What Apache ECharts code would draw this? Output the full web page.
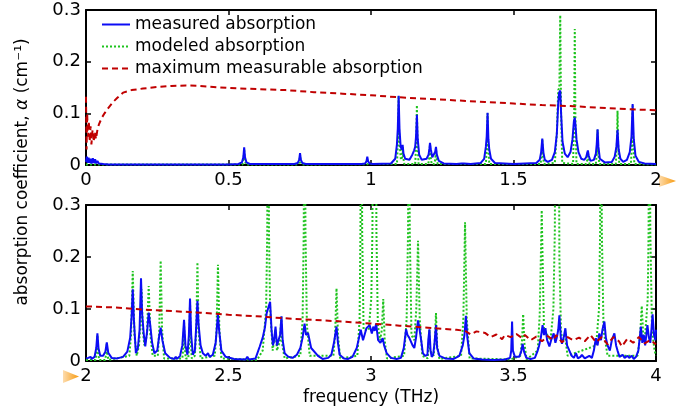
<!DOCTYPE html>
<html>
<head>
<meta charset="utf-8">
<script src="https://cdn.jsdelivr.net/npm/echarts@6/dist/echarts.min.js"></script>
<style>
html,body{margin:0;padding:0;background:#fff;}
#chart{width:694px;height:414px;}
</style>
</head>
<body>
<div id="chart"></div>
<script>
// ---------- data (frequency in THz, absorption coefficient in cm^-1) ----------
var seriesNames = ['measured absorption', 'modeled absorption', 'maximum measurable absorption'];
var xTicksTop = [0, 0.5, 1, 1.5, 2];
var xTicksBottom = [2, 2.5, 3, 3.5, 4];
var yTicks = [0, 0.1, 0.2, 0.3];
var xLabelName = 'frequency (THz)';

var topMeasured = [
  [0,0.006],[0.003,0.016],[0.006,0.004],[0.009,0.014],[0.012,0.004],[0.016,0.012],[0.02,0.003],[0.024,0.013],[0.028,0.004],[0.032,0.011],[0.036,0.003],[0.04,0.008],[0.045,0.003],[0.05,0.005],[0.06,0.002],[0.08,0.001],[0.5,0.001],
  [0.535,0.002],[0.547,0.005],[0.552,0.015],[0.555,0.034],[0.558,0.015],[0.563,0.005],[0.575,0.002],
  [0.731,0.002],[0.743,0.004],[0.748,0.01],[0.751,0.023],[0.754,0.01],[0.759,0.004],[0.771,0.002],
  [0.967,0.002],[0.979,0.003],[0.984,0.007],[0.987,0.016],[0.990,0.007],[0.995,0.003],[1.007,0.002],
  [1.07,0.003],[1.085,0.012],[1.091,0.04],[1.094,0.07],[1.097,0.134],[1.100,0.07],[1.104,0.035],[1.108,0.03],[1.111,0.039],[1.114,0.022],[1.12,0.012],
  [1.135,0.01],[1.145,0.02],[1.151,0.028],[1.155,0.035],[1.158,0.055],[1.161,0.097],[1.164,0.05],[1.169,0.02],[1.178,0.01],
  [1.195,0.012],[1.202,0.02],[1.205,0.032],[1.207,0.043],[1.210,0.03],[1.215,0.015],[1.22,0.015],[1.225,0.025],[1.228,0.035],[1.231,0.02],[1.238,0.008],[1.255,0.003],
  [1.30,0.002],[1.318,0.003],[1.322,0.006],[1.326,0.003],[1.35,0.002],
  [1.385,0.004],[1.397,0.012],[1.403,0.035],[1.406,0.055],[1.409,0.101],[1.412,0.05],[1.415,0.03],[1.421,0.012],[1.435,0.004],[1.5,0.002],
  [1.58,0.004],[1.592,0.01],[1.597,0.025],[1.601,0.051],[1.605,0.024],[1.61,0.01],[1.62,0.006],
  [1.635,0.01],[1.645,0.025],[1.652,0.06],[1.657,0.12],[1.660,0.14],[1.664,0.144],[1.667,0.1],[1.672,0.045],[1.68,0.022],[1.69,0.015],[1.70,0.025],[1.707,0.05],
  [1.712,0.085],[1.715,0.092],[1.718,0.074],[1.721,0.05],[1.728,0.025],[1.738,0.012],[1.748,0.01],[1.755,0.015],[1.758,0.022],[1.761,0.028],[1.764,0.018],[1.77,0.008],
  [1.782,0.01],[1.789,0.022],[1.792,0.04],[1.795,0.069],[1.798,0.035],[1.803,0.012],[1.82,0.005],
  [1.845,0.006],[1.855,0.016],[1.861,0.035],[1.865,0.068],[1.869,0.03],[1.875,0.012],[1.885,0.006],[1.898,0.01],[1.908,0.025],[1.914,0.055],[1.918,0.118],[1.922,0.05],[1.928,0.018],[1.94,0.006],[1.96,0.003],[2.0,0.002]
];

var topModeled = [
  [0,0.001],[0.549,0.001],[0.553,0.012],[0.555,0.03],[0.557,0.012],[0.561,0.001],
  [0.745,0.001],[0.749,0.008],[0.751,0.02],[0.753,0.008],[0.757,0.001],
  [1.091,0.002],[1.095,0.05],[1.097,0.134],[1.099,0.05],[1.105,0.01],[1.109,0.015],[1.111,0.035],[1.113,0.015],[1.117,0.002],
  [1.155,0.002],[1.159,0.045],[1.161,0.116],[1.163,0.045],[1.167,0.002],
  [1.201,0.002],[1.205,0.016],[1.207,0.04],[1.209,0.016],[1.213,0.002],[1.222,0.002],[1.226,0.013],[1.228,0.033],[1.230,0.013],[1.234,0.002],
  [1.403,0.002],[1.407,0.04],[1.409,0.1],[1.411,0.04],[1.415,0.002],
  [1.595,0.002],[1.599,0.02],[1.601,0.05],[1.603,0.02],[1.607,0.002],
  [1.645,0.004],[1.652,0.06],[1.657,0.145],[1.661,0.15],[1.664,0.29],[1.667,0.1],[1.671,0.004],
  [1.709,0.002],[1.713,0.1],[1.715,0.263],[1.717,0.1],[1.721,0.002],
  [1.755,0.002],[1.759,0.01],[1.761,0.025],[1.763,0.01],[1.767,0.002],
  [1.789,0.002],[1.793,0.027],[1.795,0.068],[1.797,0.027],[1.801,0.002],
  [1.859,0.002],[1.863,0.042],[1.865,0.105],[1.867,0.042],[1.871,0.002],
  [1.912,0.002],[1.916,0.046],[1.918,0.115],[1.920,0.046],[1.924,0.002],[2.0,0.001]
];

var topMaxAbs = [
  [0,0.132],[0.002,0.03],[0.004,0.1],[0.007,0.055],[0.01,0.085],[0.013,0.045],[0.016,0.075],[0.019,0.04],[0.023,0.068],[0.027,0.045],[0.031,0.065],[0.035,0.05],[0.04,0.068],[0.045,0.078],[0.055,0.091],[0.065,0.1],[0.078,0.11],[0.095,0.122],[0.11,0.13],[0.13,0.14],[0.16,0.145],[0.2,0.148],[0.25,0.151],[0.3,0.153],[0.35,0.154],[0.4,0.153],[0.5,0.149],[0.6,0.147],[0.7,0.145],[0.8,0.141],[0.9,0.138],[1.0,0.135],[1.1,0.131],[1.2,0.128],[1.3,0.125],[1.4,0.122],[1.5,0.119],[1.6,0.116],[1.7,0.114],[1.8,0.111],[1.9,0.108],[2.0,0.106]
];

var bottomMeasured = [
  [2.0,0.005],[2.008,0.006],[2.012,0.003],[2.016,0.008],[2.02,0.004],[2.03,0.008],[2.036,0.025],[2.040,0.053],[2.044,0.024],[2.05,0.01],[2.06,0.01],[2.068,0.018],[2.073,0.036],[2.078,0.016],[2.09,0.006],[2.11,0.005],[2.13,0.008],
  [2.145,0.018],[2.155,0.045],[2.160,0.085],[2.164,0.138],[2.168,0.08],[2.175,0.015],[2.182,0.025],[2.188,0.06],[2.193,0.159],[2.197,0.09],[2.203,0.05],[2.208,0.028],[2.215,0.06],[2.220,0.093],[2.225,0.071],[2.232,0.035],[2.24,0.015],[2.25,0.02],[2.256,0.045],[2.262,0.064],[2.268,0.04],[2.278,0.015],[2.295,0.006],[2.31,0.004],[2.315,0.008],[2.32,0.004],
  [2.33,0.01],[2.338,0.03],[2.344,0.079],[2.349,0.03],[2.356,0.012],[2.361,0.05],[2.365,0.12],[2.369,0.05],[2.375,0.012],[2.382,0.02],[2.387,0.07],[2.391,0.116],[2.395,0.07],[2.402,0.03],[2.41,0.015],[2.42,0.01],[2.428,0.015],[2.434,0.008],[2.445,0.012],[2.455,0.035],[2.460,0.07],[2.463,0.09],[2.467,0.06],[2.475,0.02],[2.49,0.008],[2.52,0.004],[2.56,0.003],[2.566,0.008],[2.572,0.003],
  [2.595,0.005],[2.609,0.027],[2.62,0.045],[2.628,0.065],[2.634,0.092],[2.640,0.095],[2.646,0.114],[2.651,0.06],[2.656,0.03],[2.660,0.04],[2.665,0.066],[2.670,0.03],[2.676,0.028],[2.681,0.05],[2.686,0.086],[2.69,0.04],[2.697,0.015],[2.71,0.008],[2.725,0.006],
  [2.74,0.012],[2.752,0.025],[2.760,0.045],[2.767,0.072],[2.772,0.05],[2.779,0.054],[2.79,0.025],[2.814,0.01],[2.83,0.004],[2.85,0.006],[2.861,0.012],[2.87,0.035],[2.879,0.066],[2.884,0.035],[2.89,0.012],[2.905,0.005],[2.92,0.004],
  [2.935,0.008],[2.95,0.025],[2.958,0.045],[2.964,0.06],[2.972,0.04],[2.984,0.063],[2.995,0.069],[3.003,0.053],[3.008,0.066],[3.013,0.058],[3.018,0.072],[3.025,0.04],[3.033,0.035],[3.041,0.044],[3.046,0.03],[3.055,0.015],[3.07,0.006],[3.09,0.004],
  [3.105,0.006],[3.115,0.025],[3.123,0.061],[3.128,0.05],[3.134,0.045],[3.14,0.047],[3.146,0.03],[3.152,0.025],[3.158,0.045],[3.165,0.078],[3.169,0.066],[3.172,0.066],[3.176,0.04],[3.182,0.015],[3.19,0.01],[3.198,0.012],[3.201,0.04],[3.205,0.061],[3.209,0.02],[3.213,0.008],[3.218,0.012],[3.223,0.035],[3.228,0.069],[3.232,0.025],[3.24,0.01],[3.26,0.005],[3.29,0.004],
  [3.31,0.01],[3.322,0.03],[3.328,0.05],[3.333,0.087],[3.338,0.045],[3.345,0.015],[3.36,0.005],[3.39,0.003],[3.43,0.002],[3.47,0.003],[3.488,0.006],[3.492,0.02],[3.495,0.076],[3.498,0.02],[3.505,0.008],[3.52,0.008],[3.527,0.018],[3.532,0.033],[3.537,0.018],[3.545,0.006],[3.56,0.004],
  [3.575,0.006],[3.585,0.02],[3.59,0.03],[3.596,0.045],[3.602,0.069],[3.607,0.05],[3.612,0.063],[3.618,0.04],[3.626,0.028],[3.632,0.04],[3.641,0.053],[3.647,0.035],[3.652,0.045],[3.657,0.06],[3.661,0.088],[3.666,0.045],[3.670,0.033],[3.676,0.045],[3.682,0.063],[3.688,0.03],[3.696,0.02],[3.704,0.01],[3.712,0.006],[3.719,0.015],[3.726,0.005],[3.735,0.008],[3.74,0.012],[3.75,0.005],
  [3.766,0.01],[3.775,0.006],[3.782,0.02],[3.789,0.044],[3.795,0.03],[3.801,0.053],[3.807,0.04],[3.812,0.06],[3.819,0.076],[3.824,0.045],[3.83,0.03],[3.838,0.02],[3.845,0.04],[3.854,0.053],[3.86,0.03],[3.865,0.02],[3.872,0.008],[3.883,0.012],[3.89,0.006],[3.9,0.01],[3.906,0.006],[3.915,0.01],[3.922,0.004],[3.93,0.008],
  [3.938,0.02],[3.943,0.045],[3.947,0.066],[3.952,0.035],[3.957,0.05],[3.962,0.03],[3.967,0.055],[3.97,0.069],[3.975,0.045],[3.98,0.035],[3.984,0.06],[3.988,0.09],[3.993,0.05],[3.998,0.04],[4.0,0.06]
];

var bottomModeled = [
  [2.0,0.002],[2.034,0.002],[2.038,0.02],[2.040,0.05],[2.042,0.02],[2.046,0.002],[2.067,0.002],[2.071,0.014],[2.073,0.034],[2.075,0.014],[2.079,0.002],
  [2.152,0.01],[2.158,0.05],[2.164,0.173],[2.170,0.05],[2.178,0.01],[2.186,0.03],[2.193,0.09],[2.195,0.138],[2.199,0.06],[2.205,0.03],[2.214,0.05],[2.220,0.144],[2.226,0.05],[2.234,0.01],
  [2.252,0.01],[2.257,0.06],[2.262,0.193],[2.267,0.06],[2.274,0.005],
  [2.338,0.005],[2.342,0.03],[2.344,0.075],[2.346,0.03],[2.350,0.005],[2.359,0.005],[2.363,0.045],[2.365,0.115],[2.367,0.045],[2.371,0.005],
  [2.382,0.01],[2.387,0.06],[2.391,0.19],[2.395,0.06],[2.402,0.005],
  [2.452,0.01],[2.458,0.06],[2.463,0.185],[2.468,0.06],[2.475,0.005],[2.6,0.002],
  [2.62,0.02],[2.632,0.1],[2.636,0.25],[2.639,0.8],[2.642,0.25],[2.646,0.1],[2.655,0.02],[2.665,0.06],[2.670,0.02],[2.681,0.04],[2.685,0.085],[2.689,0.03],[2.697,0.005],
  [2.752,0.01],[2.760,0.08],[2.764,0.25],[2.767,0.8],[2.770,0.25],[2.775,0.07],[2.785,0.01],
  [2.868,0.01],[2.874,0.05],[2.879,0.14],[2.884,0.05],[2.892,0.005],
  [2.952,0.01],[2.96,0.08],[2.963,0.25],[2.966,0.8],[2.969,0.25],[2.974,0.06],[2.992,0.06],[3.001,0.12],[3.005,0.25],[3.008,0.8],[3.011,0.35],[3.013,0.35],[3.016,0.8],[3.019,0.25],[3.024,0.07],[3.032,0.04],[3.038,0.06],[3.043,0.119],[3.048,0.04],[3.056,0.005],
  [3.116,0.01],[3.125,0.08],[3.130,0.25],[3.133,0.8],[3.136,0.25],[3.142,0.05],[3.152,0.04],[3.159,0.1],[3.165,0.231],[3.171,0.08],[3.18,0.01],
  [3.199,0.005],[3.203,0.04],[3.205,0.06],[3.207,0.02],[3.22,0.01],[3.224,0.04],[3.228,0.092],[3.232,0.03],[3.24,0.004],
  [3.316,0.01],[3.324,0.08],[3.33,0.267],[3.336,0.08],[3.346,0.005],
  [3.49,0.003],[3.524,0.01],[3.530,0.04],[3.534,0.09],[3.538,0.035],[3.546,0.003],
  [3.585,0.02],[3.592,0.09],[3.596,0.2],[3.599,0.29],[3.602,0.2],[3.607,0.06],[3.63,0.04],[3.640,0.1],[3.645,0.25],[3.649,0.8],[3.652,0.4],[3.654,0.4],[3.657,0.8],[3.661,0.2],[3.667,0.05],[3.68,0.05],[3.69,0.01],
  [3.79,0.03],[3.8,0.1],[3.804,0.25],[3.807,0.8],[3.810,0.25],[3.816,0.06],[3.83,0.01],
  [3.935,0.01],[3.944,0.045],[3.950,0.106],[3.956,0.04],[3.962,0.05],[3.971,0.12],[3.974,0.25],[3.977,0.8],[3.980,0.25],[3.986,0.06],[3.995,0.02],[4.0,0.01]
];

var bottomMaxAbs = [
  [2.0,0.105],[2.1,0.103],[2.2,0.099],[2.3,0.096],[2.4,0.093],[2.5,0.089],[2.6,0.086],[2.7,0.082],[2.8,0.079],[2.9,0.076],[3.0,0.072],[3.1,0.068],[3.2,0.064],[3.3,0.06],[3.33,0.058],[3.35,0.051],[3.37,0.057],[3.40,0.054],[3.42,0.046],[3.44,0.051],[3.46,0.042],[3.47,0.05],[3.49,0.046],[3.51,0.052],[3.53,0.044],[3.54,0.05],[3.56,0.04],[3.58,0.047],[3.60,0.038],[3.62,0.048],[3.64,0.04],[3.65,0.05],[3.67,0.036],[3.69,0.046],[3.71,0.04],[3.73,0.045],[3.75,0.038],[3.77,0.05],[3.79,0.036],[3.81,0.046],[3.83,0.032],[3.85,0.046],[3.87,0.038],[3.88,0.028],[3.9,0.043],[3.92,0.035],[3.94,0.046],[3.96,0.034],[3.98,0.04],[4.0,0.032]
];

// ---------- styling ----------
var FONT = 'DejaVu Sans';
var BLUE = '#0c0cf5', GREEN = '#1ec31e', RED = '#c00000';

function xAxisCfg(grid, min, max, ticks, pos, showLabel, name) {
  return {
    type: 'value', gridIndex: grid, min: min, max: max, interval: 0.5, position: pos,
    axisLine: { show: true, onZero: false, lineStyle: { color: '#000', width: 2 } },
    axisTick: { show: true, inside: true, length: 5, lineStyle: { color: '#000', width: 1.5 } },
    axisLabel: { show: showLabel, color: '#000', fontSize: 18, fontFamily: FONT, margin: 6,
      formatter: function (v) { for (var i = 0; i < ticks.length; i++) { if (Math.abs(ticks[i] - v) < 1e-9) return String(ticks[i]); } return ''; } },
    splitLine: { show: false },
    name: name || '', nameLocation: 'middle', nameGap: 28,
    nameTextStyle: { color: '#000', fontSize: 17, fontFamily: FONT }
  };
}
function yAxisCfg(grid, pos, showLabel) {
  return {
    type: 'value', gridIndex: grid, min: 0, max: 0.3, interval: 0.1, position: pos,
    axisLine: { show: true, onZero: false, lineStyle: { color: '#000', width: 2 } },
    axisTick: { show: true, inside: true, length: 5, lineStyle: { color: '#000', width: 1.5 } },
    axisLabel: { show: showLabel, color: '#000', fontSize: 18, fontFamily: FONT, margin: 5,
      formatter: function (v) { for (var i = 0; i < yTicks.length; i++) { if (Math.abs(yTicks[i] - v) < 1e-9) return String(yTicks[i]); } return ''; } },
    splitLine: { show: false }
  };
}
function lineSeries(name, data, xi, yi, color, type, z) {
  return {
    name: name, type: 'line', data: data, xAxisIndex: xi, yAxisIndex: yi,
    showSymbol: false, symbol: 'none', clip: true, z: z,
    lineStyle: { color: color, width: 2, type: type },
    itemStyle: { color: color }
  };
}

var chart = echarts.init(document.getElementById('chart'), null, { renderer: 'canvas' });
var triFill = { type: 'linear', x: 0, y: 0, x2: 1, y2: 0,
  colorStops: [{ offset: 0, color: '#fddcae' }, { offset: 1, color: '#f79a0e' }] };

chart.setOption({
  animation: false,
  backgroundColor: '#fff',
  textStyle: { fontFamily: FONT },
  grid: [
    { left: 86, top: 10, width: 570, height: 155 },
    { left: 86, top: 205, width: 570, height: 156 }
  ],
  legend: {
    data: seriesNames, orient: 'vertical', left: 96, top: 11,
    itemWidth: 28, itemHeight: 14, itemGap: 5,
    itemStyle: { opacity: 0 },
    textStyle: { color: '#000', fontSize: 17, fontFamily: FONT }
  },
  xAxis: [
    xAxisCfg(0, xTicksTop[0], xTicksTop[xTicksTop.length - 1], xTicksTop, 'bottom', true),
    xAxisCfg(0, xTicksTop[0], xTicksTop[xTicksTop.length - 1], xTicksTop, 'top', false),
    xAxisCfg(1, xTicksBottom[0], xTicksBottom[xTicksBottom.length - 1], xTicksBottom, 'bottom', true, xLabelName),
    xAxisCfg(1, xTicksBottom[0], xTicksBottom[xTicksBottom.length - 1], xTicksBottom, 'top', false)
  ],
  yAxis: [
    yAxisCfg(0, 'left', true), yAxisCfg(0, 'right', false),
    yAxisCfg(1, 'left', true), yAxisCfg(1, 'right', false)
  ],
  series: [
    lineSeries(seriesNames[1], topModeled, 0, 0, GREEN, [2, 2], 2),
    lineSeries(seriesNames[0], topMeasured, 0, 0, BLUE, 'solid', 3),
    lineSeries(seriesNames[2], topMaxAbs, 0, 0, RED, [6, 4], 4),
    lineSeries(seriesNames[1], bottomModeled, 2, 2, GREEN, [2, 2], 2),
    lineSeries(seriesNames[0], bottomMeasured, 2, 2, BLUE, 'solid', 3),
    lineSeries(seriesNames[2], bottomMaxAbs, 2, 2, RED, [6, 4], 4)
  ],
  graphic: [
    { type: 'text', x: 23, y: 172, rotation: Math.PI / 2,
      style: { text: '{n|absorption coefficient, }{a|α}{n| (cm⁻¹)}', align: 'center', verticalAlign: 'middle',
        rich: { n: { fontSize: 17, fontFamily: FONT, fill: '#000', color: '#000' },
                a: { fontSize: 17, fontFamily: FONT, fontStyle: 'italic', fill: '#000', color: '#000' } } } },
    { type: 'polygon', shape: { points: [[659, 175], [676, 181], [659, 187]] }, style: { fill: triFill } },
    { type: 'polygon', shape: { points: [[63, 370], [79, 376.5], [63, 383]] }, style: { fill: triFill } }
  ]
});
</script>
</body>
</html>
